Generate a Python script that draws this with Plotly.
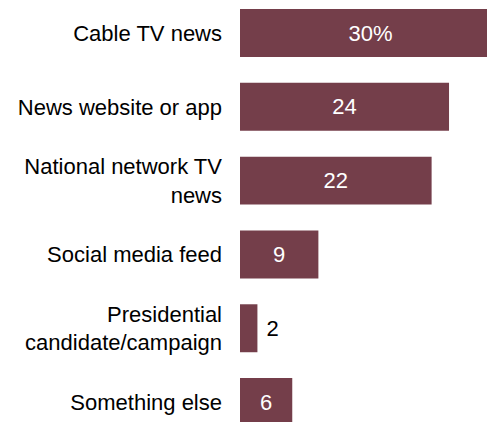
import plotly.graph_objects as go

categories = [
    "Cable TV news",
    "News website or app",
    "National network TV<br>news",
    "Social media feed",
    "Presidential<br>candidate/campaign",
    "Something else",
]
values = [30, 24, 22, 9, 2, 6]
value_labels = ["30%", "24", "22", "9", "2", "6"]

BAR_COLOR = "#743e4a"
FONT = "Liberation Sans"
FONT_SIZE = 22

# Small bars get their label outside, in dark text
positions = ["outside" if v < 4 else "inside" for v in values]
text_colors = ["#000000" if p == "outside" else "#ffffff" for p in positions]
bar_text = [(" " + t) if p == "outside" else t for t, p in zip(value_labels, positions)]

fig = go.Figure(
    go.Bar(
        x=values,
        y=categories,
        orientation="h",
        marker=dict(color=BAR_COLOR, line=dict(width=0)),
        width=0.65,
        text=bar_text,
        textposition=positions,
        insidetextanchor="middle",
        textfont=dict(family=FONT, size=FONT_SIZE, color=text_colors),
        cliponaxis=True,
        hoverinfo="skip",
    )
)

fig.update_layout(
    width=487,
    height=422,
    margin=dict(l=240, r=0, t=0, b=0),
    paper_bgcolor="white",
    plot_bgcolor="white",
    showlegend=False,
    uniformtext=dict(mode=False),
    font=dict(family=FONT, size=FONT_SIZE, color="#000000"),
)

fig.update_xaxes(
    range=[0, 28.36],
    visible=False,
    showgrid=False,
    zeroline=False,
    fixedrange=True,
)

fig.update_yaxes(
    type="category",
    categoryorder="array",
    categoryarray=categories,
    range=[5.27, -0.447],
    showgrid=False,
    zeroline=False,
    showline=False,
    ticks="",
    ticklabelstandoff=17,
    tickfont=dict(family=FONT, size=FONT_SIZE, color="#000000"),
    fixedrange=True,
)

fig.write_html("out.html", config={"displayModeBar": False})
